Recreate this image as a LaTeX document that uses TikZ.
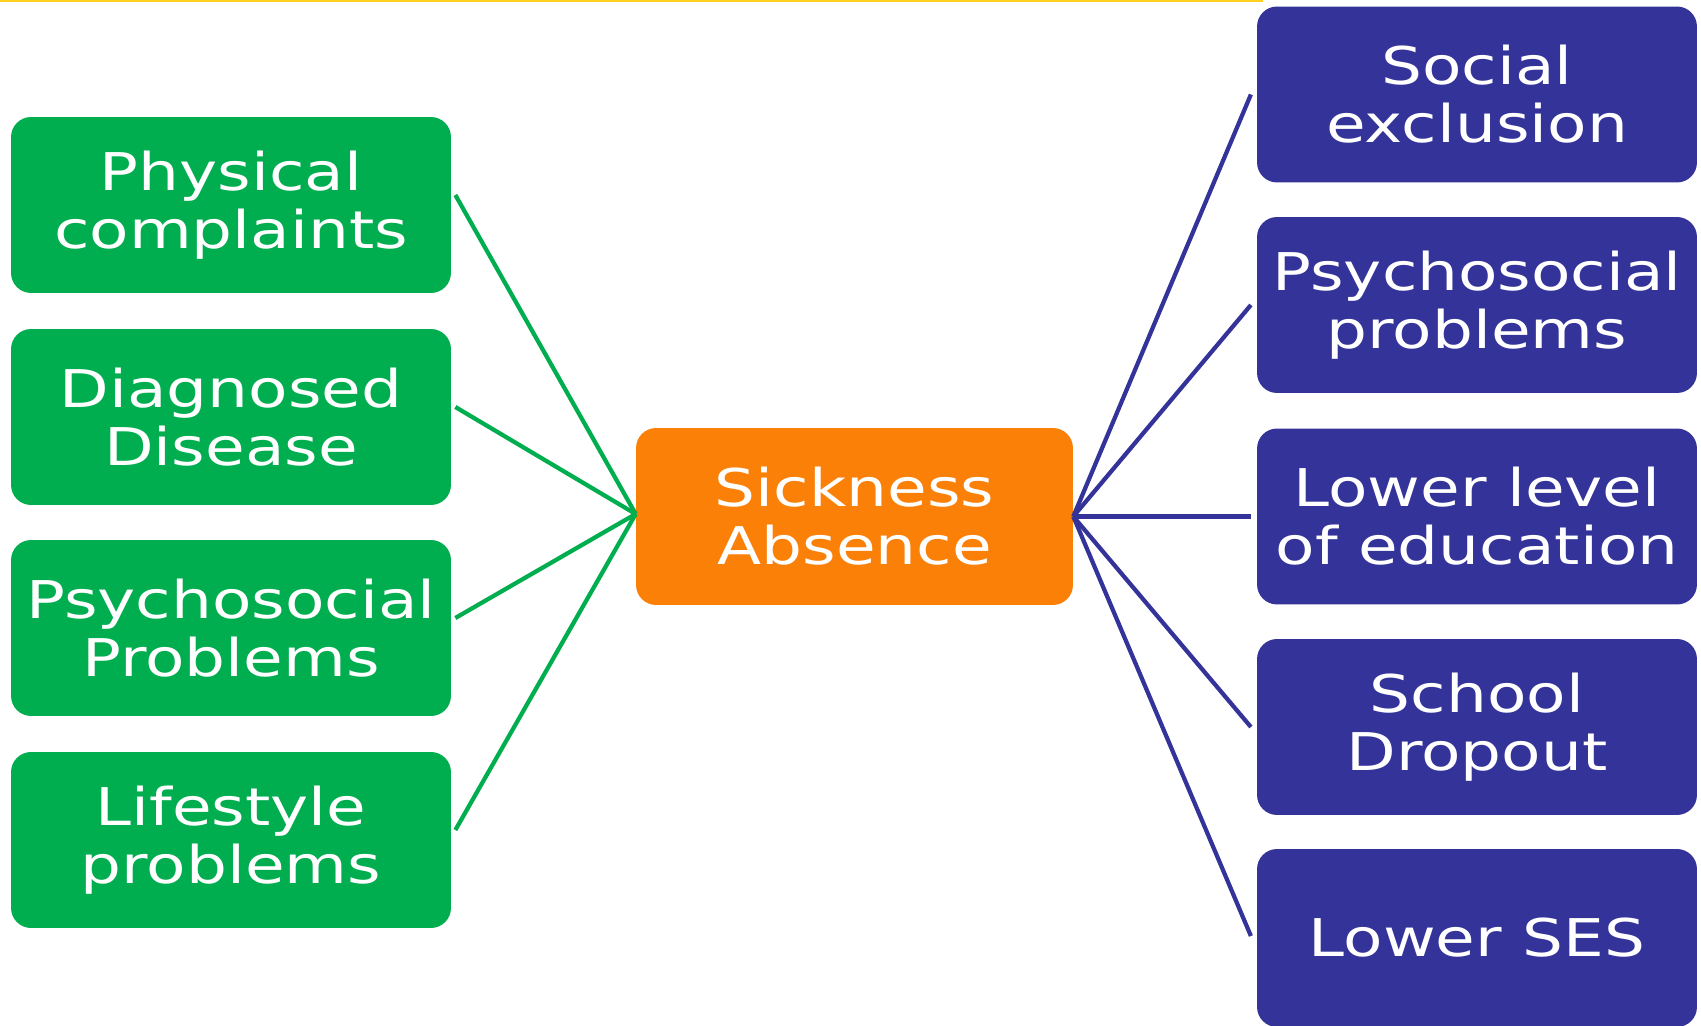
\documentclass[tikz,border=0pt]{standalone}
\usepackage{fontspec}
\setmainfont{DejaVu Sans}[FakeStretch=1.24]
\usepackage{tikz}
\definecolor{boxgreen}{RGB}{0,173,79}
\definecolor{boxorange}{RGB}{251,128,8}
\definecolor{boxblue}{RGB}{51,51,153}
\definecolor{topyellow}{RGB}{255,208,30}

\begin{document}
\begin{tikzpicture}[x=0.02cm, y=-0.02cm,
		box/.style={rounded corners=0.4cm, text=white, align=center, inner sep=0pt,
			minimum width=8.8cm, minimum height=3.52cm, font=\fontsize{29.6}{33}\selectfont},
		greenbox/.style={box, fill=boxgreen, outer sep=2.5pt},
		bluebox/.style={box, fill=boxblue, outer sep=3.5pt},
		link/.style={line width=0.085cm}]
				\useasboundingbox (0,0) rectangle (1701,1026);
				\draw[topyellow, line width=0.06cm] (0,1) -- (1263,1);
				% causes
				\node[greenbox] (pc) at (231,205) {Physical\\complaints};
				\node[greenbox] (dd) at (231,417) {Diagnosed\\Disease};
				\node[greenbox] (pp) at (231,628) {Psychosocial\\Problems};
				\node[greenbox] (lp) at (231,840) {Lifestyle\\problems};
				% centre
				\node[box, fill=boxorange, minimum width=8.74cm, minimum height=3.54cm] (sa) at (854.5,516.5) {Sickness\\Absence};
				% consequences
				\node[bluebox] (se) at (1477,94.5) {Social\\exclusion};
				\node[bluebox] (ps) at (1477,305) {Psychosocial\\problems};
				\node[bluebox] (le) at (1477,516.5) {Lower level\\of education};
				\node[bluebox] (sd) at (1477,727) {School\\Dropout};
				\node[bluebox, minimum height=3.56cm] (ses) at (1477,938) {Lower SES};
				\foreach \n in {pc,dd,pp,lp}
					\draw[link, boxgreen] ([yshift=0.2cm]\n.east) -- ([yshift=0.05cm]sa.west);
				\foreach \n in {se,ps,le,sd}
					\draw[link, boxblue] (sa.east) -- (\n.west);
				\draw[link, boxblue] (sa.east) -- ([yshift=0.04cm]ses.west);
			\end{tikzpicture}
\end{document}
